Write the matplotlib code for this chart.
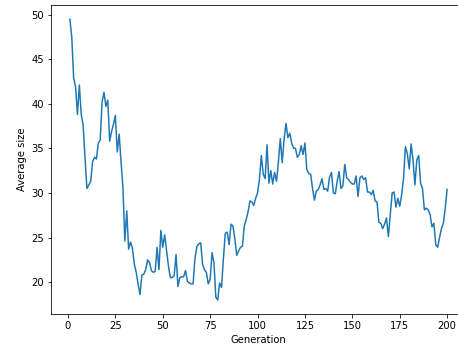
import matplotlib
matplotlib.use("Agg")
import matplotlib.pyplot as plt
import numpy as np

generations = list(range(1, 201))

average_size = [
    49.5, 47.5, 42.9, 41.9, 38.8, 42.1, 38.8, 37.6, 33.9, 30.5,
    30.9, 31.3, 33.5, 34.0, 33.8, 35.6, 35.9, 40.2, 41.3, 39.7,
    40.4, 35.8, 36.9, 37.7, 38.7, 34.6, 36.6, 33.5, 30.6, 24.6,
    28.0, 23.7, 24.5, 23.8, 22.0, 21.1, 19.8, 18.6, 20.8, 20.9,
    21.4, 22.5, 22.2, 21.3, 21.1, 21.2, 23.9, 21.4, 25.8, 23.9,
    25.3, 23.5, 21.8, 20.5, 20.5, 20.7, 23.1, 19.5, 20.5, 20.6,
    20.6, 21.3, 20.1, 19.9, 19.8, 19.8, 22.7, 24.0, 24.3, 24.4,
    22.0, 21.4, 21.1, 19.8, 20.3, 23.3, 22.2, 18.3, 18.0, 19.9,
    19.4, 22.7, 25.5, 25.6, 24.2, 26.5, 26.3, 24.9, 23.0, 23.5,
    23.9, 24.0, 26.3, 27.0, 27.9, 29.1, 29.0, 28.6, 29.4, 30.0,
    31.5, 34.2, 32.1, 31.6, 35.4, 31.1, 32.5, 31.0, 32.3, 31.3,
    33.5, 36.1, 33.4, 36.0, 37.8, 36.2, 36.7, 35.6, 35.0, 35.0,
    34.0, 34.3, 35.3, 34.3, 35.6, 32.6, 32.2, 32.1, 30.5, 29.2,
    30.2, 30.4, 30.9, 31.6, 30.4, 30.5, 30.2, 31.8, 32.3, 30.0,
    29.9, 31.3, 32.4, 30.5, 30.8, 33.2, 31.7, 31.5, 31.2, 31.0,
    31.0, 31.9, 29.6, 31.7, 31.9, 31.5, 31.7, 30.1, 30.1, 29.8,
    30.3, 29.1, 29.0, 26.7, 26.6, 26.0, 26.5, 27.2, 25.1, 27.6,
    30.0, 30.1, 28.4, 29.4, 28.5, 29.8, 31.6, 35.2, 34.4, 32.7,
    35.5, 33.7, 30.9, 33.7, 34.2, 31.1, 30.5, 28.1, 28.3, 28.1,
    27.6, 26.2, 26.6, 24.2, 23.9, 25.0, 26.0, 26.6, 28.3, 30.4,
]

x_label = "Generation"
y_label = "Average size"

fig = plt.figure(figsize=(458 / 72, 351 / 72), dpi=72)
ax = fig.add_axes([51 / 458, 37 / 351, 415 / 458, 309 / 351])
ax.plot(generations, average_size, color="#1f77b4", linewidth=1.5)
ax.set_xlabel(x_label)
ax.set_ylabel(y_label)
ax.set_xticks([0, 25, 50, 75, 100, 125, 150, 175, 200])
ax.set_yticks([20, 25, 30, 35, 40, 45, 50])

fig.savefig("out.png", dpi=72)
